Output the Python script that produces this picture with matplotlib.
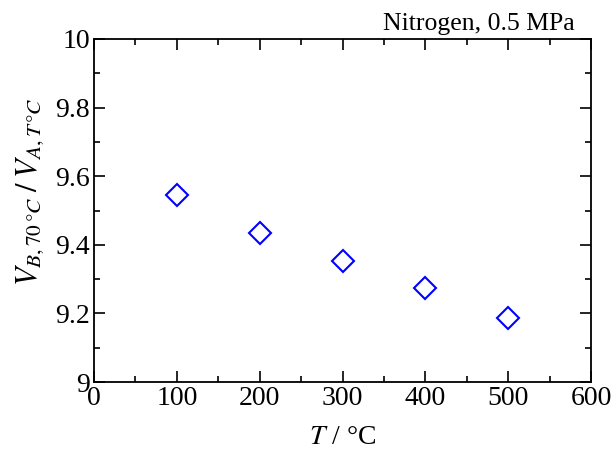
import matplotlib
matplotlib.use("Agg")
import matplotlib.pyplot as plt
from matplotlib.ticker import MultipleLocator

T = [100, 200, 300, 400, 500]
ratio = [9.545, 9.433, 9.354, 9.275, 9.188]
xticks = [0, 100, 200, 300, 400, 500, 600]
yticks = [9.0, 9.2, 9.4, 9.6, 9.8, 10.0]
yticklabels = ["9", "9.2", "9.4", "9.6", "9.8", "10"]

plt.rcParams['font.family'] = ['Liberation Serif', 'DejaVu Serif']
plt.rcParams['mathtext.fontset'] = 'stix'

fig = plt.figure(figsize=(6.14, 4.5), dpi=100)
ax = fig.add_axes([94/614, 1-382/450, (591-94)/614, (382-39)/450])

ax.plot(T, ratio, linestyle='none', marker='D', markersize=11,
        markerfacecolor='none', markeredgecolor='#0000ff', markeredgewidth=1.5)

ax.set_xlim(0, 600)
ax.set_ylim(9, 10)
ax.set_xticks(xticks)
ax.set_xticklabels([str(v) for v in xticks])
ax.set_yticks(yticks)
ax.set_yticklabels(yticklabels)
ax.xaxis.set_minor_locator(MultipleLocator(50))
ax.yaxis.set_minor_locator(MultipleLocator(0.1))
ax.tick_params(which='both', direction='in', top=True, right=True, width=1.2)
ax.tick_params(which='major', length=8, labelsize=20, pad=3)
ax.tick_params(which='minor', length=4)
for s in ax.spines.values():
    s.set_linewidth(1.3)

ax.set_xlabel(r'$T$ / °C', fontsize=20, labelpad=10)
ax.set_ylabel(r'$V_{B,70\,°C}\;/\;V_{A,T\,°C}$', fontsize=22)
ax.yaxis.set_label_coords(-0.097, 0.555)
ax.text(1.0 - 16/497, 1.012, 'Nitrogen, 0.5 MPa', transform=ax.transAxes,
        ha='right', va='bottom', fontsize=18.5)

fig.savefig('out.png', dpi=100)
